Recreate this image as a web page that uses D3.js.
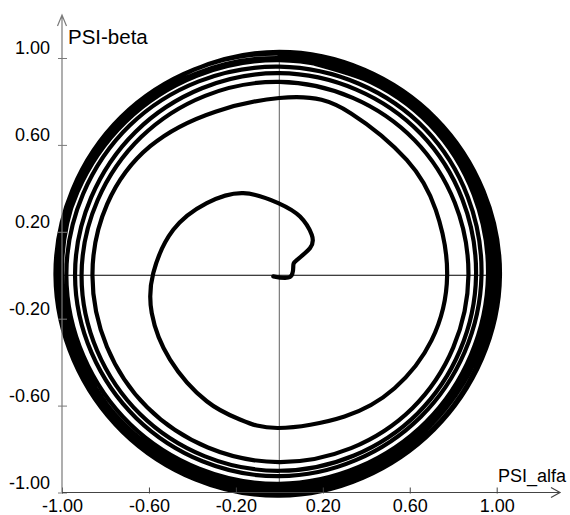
<!DOCTYPE html>
<html>
<head>
<meta charset="utf-8">
<script src="https://cdn.jsdelivr.net/npm/d3@7"></script>
<style>
  body { margin: 0; background: #fff; }
  svg text { font-family: "Liberation Sans", Arial, sans-serif; fill: #000; }
</style>
</head>
<body>
<svg id="fluxVis" width="570" height="515"></svg>
<script>
// tick positions shown on both axes
const tickValues = [-1.0, -0.6, -0.2, 0.2, 0.6, 1.0];

// stator flux trajectory, start-up spiral (alfa, beta)
const startSpiral = [
  [-0.028, -0.005], [0.049, -0.008], [0.064, 0.04], [0.08, 0.07], [0.141, 0.125],
  [0.149, 0.186], [0.095, 0.27], [-0.005, 0.332], [-0.166, 0.378], [-0.334, 0.332],
  [-0.488, 0.209], [-0.58, 0.01], [-0.587, -0.174], [-0.503, -0.388], [-0.334, -0.58],
  [-0.181, -0.664], [-0.005, -0.703], [0.3, -0.65], [0.53, -0.52], [0.7, -0.3],
  [0.772, 0.0], [0.72, 0.3], [0.586, 0.531], [0.33, 0.745], [0, 0.816]
];

// following turns, approaching the steady-state circle
const outerTurns = [
  [-0.594, 0.594], [-0.86, 0], [-0.608, -0.608], [0, -0.86], [0.612, -0.612],
  [0.87, 0], [0.622, 0.622], [0, 0.89],
  [-0.636, 0.636], [-0.91, 0], [-0.64, -0.64], [0, -0.90], [0.636, -0.636],
  [0.905, 0], [0.651, 0.651], [0, 0.93],
  [-0.661, 0.661], [-0.94, 0], [-0.658, -0.658], [0, -0.925], [0.651, -0.651],
  [0.93, 0], [0.672, 0.672], [0, 0.96],
  [-0.689, 0.689], [-0.98, 0], [-0.686, -0.686], [0, -0.96], [0.675, -0.675],
  [0.96, 0], [0.693, 0.693], [0, 0.99],
  [-0.707, 0.707], [-1.01, 0], [-0.707, -0.707], [0, -0.99], [0.693, -0.693],
  [0.99, 0], [0.707, 0.707], [0, 1.02],
  [-0.728, 0.728], [-1.03, 0], [-0.721, -0.721], [0, -1.015], [0.711, -0.711],
  [1.015, 0], [0.721, 0.721], [0, 1.028],
  [-0.721, 0.721], [-1.0, 0], [-0.7, -0.7], [0, -0.975], [0.682, -0.682],
  [0.975, 0], [0.7, 0.7], [0, 1.0],
  [-0.714, 0.714], [-1.02, 0], [-0.714, -0.714], [0, -1.005], [0.707, -0.707],
  [1.005, 0], [0.714, 0.714], [0, 1.015]
];

const svg = d3.select('svg#fluxVis');
const axisColor = '#7a7a7a';
const fmt = d3.formatLocale({ decimal: '.', thousands: ',', grouping: [3], currency: ['', ''], minus: '-' }).format('.2f');

const xScale = d3.scaleLinear().domain([-1, 1]).range([62, 496.7]);
const yScale = d3.scaleLinear().domain([-1, 1]).range([492.5, 58]);

// cross lines through the origin
svg.append('line')
  .attr('x1', xScale(0)).attr('x2', xScale(0))
  .attr('y1', yScale(1)).attr('y2', yScale(-1))
  .attr('stroke', axisColor).attr('stroke-width', 1.2);
svg.append('line')
  .attr('x1', xScale(-1)).attr('x2', xScale(1))
  .attr('y1', yScale(0)).attr('y2', yScale(0))
  .attr('stroke', '#000').attr('stroke-width', 1);

// trajectory
const line = d3.line()
  .x(d => xScale(d[0]))
  .y(d => yScale(d[1]))
  .curve(d3.curveNatural);

svg.append('path')
  .datum(startSpiral.concat(outerTurns))
  .attr('d', line)
  .attr('fill', 'none')
  .attr('stroke', '#000')
  .attr('stroke-width', 4.2)
  .attr('stroke-linejoin', 'round')
  .attr('stroke-linecap', 'round');

// y axis
const yAxis = svg.append('g')
  .attr('transform', `translate(${xScale(-1)},0)`)
  .call(d3.axisLeft(yScale).tickValues(tickValues).tickFormat(fmt).tickSize(4).tickPadding(8))
  .call(g => g.select('.domain').remove());
yAxis.selectAll('.tick line').attr('x1', -4).attr('x2', 5).attr('stroke', axisColor);
yAxis.selectAll('.tick text')
  .attr('dy', '-0.25em')
  .style('font-size', '18px')
  .attr('font-family', null);

// x axis
const xAxis = svg.append('g')
  .attr('transform', `translate(0,${yScale(-1)})`)
  .call(d3.axisBottom(xScale).tickValues(tickValues).tickFormat(fmt).tickSize(1).tickPadding(6))
  .call(g => g.select('.domain').remove());
xAxis.selectAll('.tick line').attr('y1', -5).attr('y2', 1).attr('stroke', '#444');
xAxis.selectAll('.tick text')
  .style('font-size', '18px')
  .attr('font-family', null);

// axis lines with open arrow heads
const yTop = 15, xEnd = 560;
svg.append('path')
  .attr('d', `M${xScale(-1)},${yScale(-1)}V${yTop}M${xScale(-1) - 4.5},${yTop + 11}L${xScale(-1)},${yTop}L${xScale(-1) + 4.5},${yTop + 11}`)
  .attr('fill', 'none').attr('stroke', axisColor).attr('stroke-width', 1.2);
svg.append('path')
  .attr('d', `M${xScale(-1)},${yScale(-1)}H${xEnd}M${xEnd - 9},${yScale(-1) - 5}L${xEnd},${yScale(-1)}L${xEnd - 9},${yScale(-1) + 5}`)
  .attr('fill', 'none').attr('stroke', '#444').attr('stroke-width', 1.2);

// axis titles
svg.append('text')
  .attr('x', 68).attr('y', 44)
  .style('font-size', '20.5px')
  .text('PSI-beta');
svg.append('text')
  .attr('x', 498).attr('y', 482)
  .style('font-size', '18px')
  .text('PSI_alfa');
</script>
</body>
</html>
